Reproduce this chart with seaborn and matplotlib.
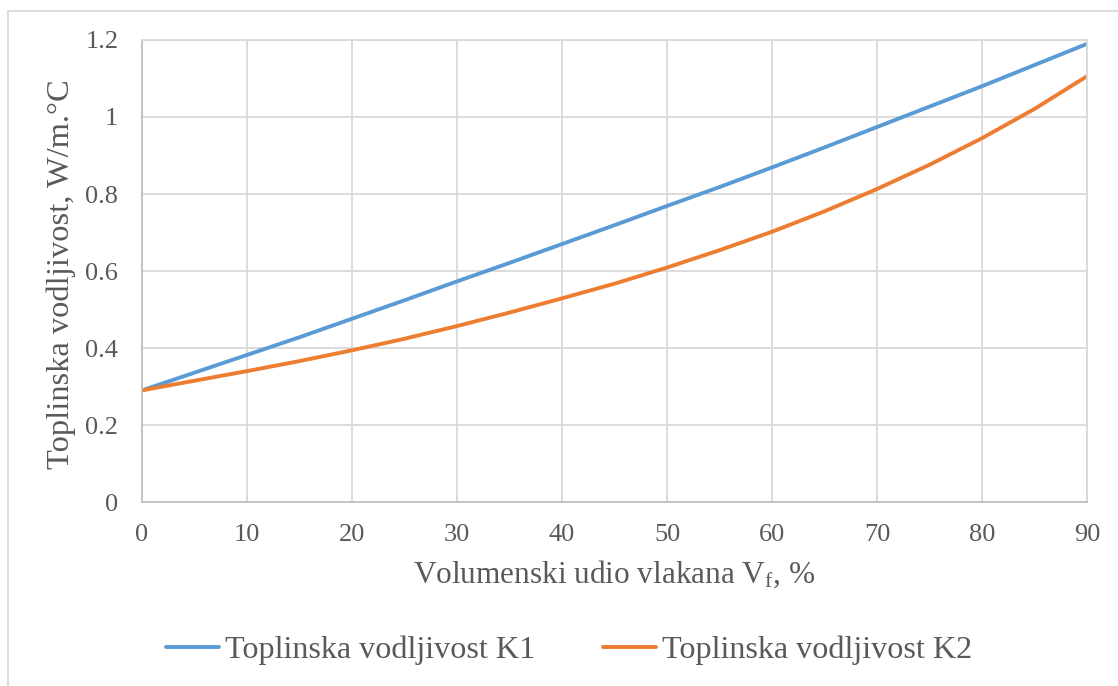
import numpy as np
import pandas as pd
import matplotlib
matplotlib.use('Agg')
import matplotlib.pyplot as plt
import matplotlib.patches as patches
import seaborn as sns

# vrijednosti ocitane s grafa
vf = [0, 5, 10, 15, 20, 25, 30, 35, 40, 45, 50, 55, 60, 65, 70, 75, 80, 85, 90]
k1 = [0.29, 0.336, 0.382, 0.428, 0.476, 0.524, 0.573, 0.621, 0.670, 0.719, 0.769,
      0.818, 0.869, 0.921, 0.974, 1.027, 1.080, 1.135, 1.19]
k2 = [0.29, 0.315, 0.340, 0.366, 0.394, 0.424, 0.457, 0.492, 0.529, 0.567, 0.609,
      0.654, 0.702, 0.755, 0.813, 0.876, 0.945, 1.021, 1.106]
nazivi = ['Toplinska vodljivost K1', 'Toplinska vodljivost K2']
boje = ['#5B9BD5', '#ED7D31']

df = pd.DataFrame({
    'Vf': vf * 2,
    'K': k1 + k2,
    'serija': [nazivi[0]] * len(vf) + [nazivi[1]] * len(vf),
})

sns.set_style('white')
plt.rcParams['font.family'] = ['Liberation Serif', 'DejaVu Serif']
plt.rcParams['mathtext.fontset'] = 'custom'
plt.rcParams['mathtext.rm'] = 'Liberation Serif'
plt.rcParams['mathtext.it'] = 'Liberation Serif:italic'

siva = '#595959'
fig = plt.figure(figsize=(11.18, 6.86), dpi=100)
ax = fig.add_axes([0.127, 0.2682, 0.8453, 0.6735])

sns.lineplot(data=df, x='Vf', y='K', hue='serija', palette=boje, linewidth=2.8,
             ax=ax, legend=False)

ax.set_xlim(0, 90)
ax.set_ylim(0, 1.2)
ax.set_xticks(np.arange(0, 91, 10))
ax.set_yticks([0, 0.2, 0.4, 0.6, 0.8, 1.0, 1.2])
ax.set_yticklabels(['0', '0.2', '0.4', '0.6', '0.8', '1', '1.2'])
ax.grid(True, color='#D9D9D9', linewidth=1.3)
ax.set_axisbelow(True)
for s in ['top', 'right']:
    ax.spines[s].set_color('#D9D9D9')
    ax.spines[s].set_linewidth(1.3)
for s in ['left', 'bottom']:
    ax.spines[s].set_color('#BFBFBF')
    ax.spines[s].set_linewidth(1.3)
ax.tick_params(length=0, labelsize=19, labelcolor=siva)
ax.tick_params(axis='x', pad=16)
ax.tick_params(axis='y', pad=17)

ax.set_xlabel(r'Volumenski udio vlakana V$_\mathrm{f}$, %', fontsize=22.5, color=siva, labelpad=9)
ax.set_ylabel('')
fig.text(61 / 1118, 1 - 274 / 686, 'Toplinska vodljivost, W/m.°C', rotation=90,
         ha='center', va='center', fontsize=23.4, color=siva)

linije = [plt.Line2D([], [], color=b, linewidth=2.8) for b in boje]
fig.legend(linije, nazivi, loc='center', bbox_to_anchor=(569 / 1118, 1 - 650 / 686),
           ncol=2, frameon=False, fontsize=23.1, labelcolor=siva, handlelength=1.65,
           handletextpad=0.2, columnspacing=2.1)

# okvir oko grafa
okvir = patches.Rectangle((7.5 / 1118, -0.1), 1.2, 1 - 10.5 / 686 + 0.1,
                          transform=fig.transFigure, fill=False,
                          edgecolor='#D9D9D9', linewidth=1.3)
fig.patches.append(okvir)

fig.savefig('out.png', dpi=100)
